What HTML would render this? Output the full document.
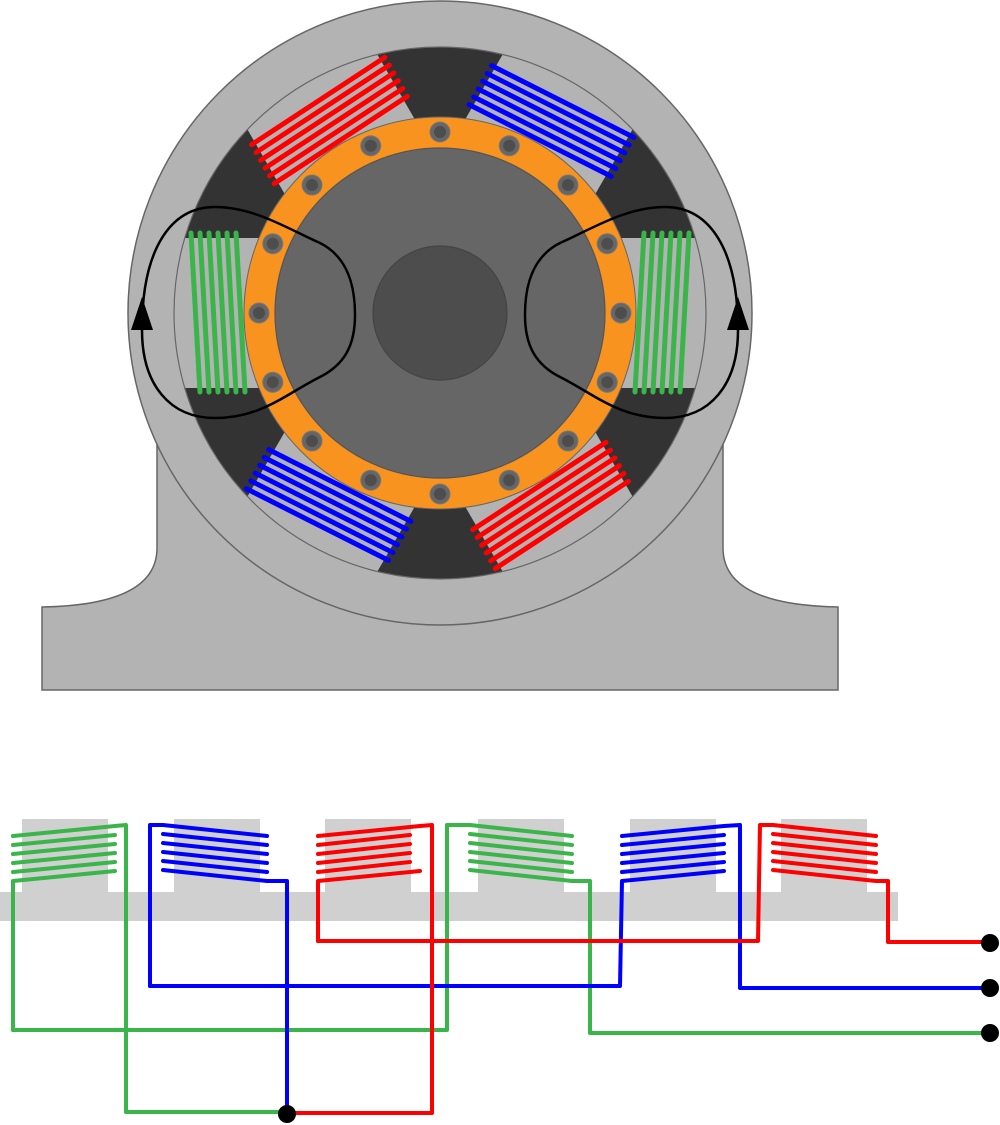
<!DOCTYPE html>
<html><head><meta charset="utf-8"><style>html,body{margin:0;padding:0;background:#fff}svg{display:block}</style></head>
<body>
<svg width="1000" height="1125" viewBox="0 0 1000 1125" xmlns="http://www.w3.org/2000/svg">
<defs>
<clipPath id="ic"><circle cx="440" cy="313" r="266"/></clipPath>
<g id="pole"><rect x="120" y="238" width="180" height="150" fill="#b3b3b3"/></g>
<g id="coilL" stroke-width="5" stroke-linecap="round" fill="none">
<line x1="191" y1="233" x2="200" y2="392"/><line x1="200" y1="233" x2="209" y2="392"/>
<line x1="209" y1="233" x2="218" y2="392"/><line x1="218" y1="233" x2="227" y2="392"/>
<line x1="227" y1="233" x2="236" y2="392"/><line x1="236" y1="233" x2="245" y2="392"/>
</g>
</defs>
<!-- base -->
<path d="M157,430 L157,548 Q157,605 42,607 L42,690 L838,690 L838,607 Q723,605 723,548 L723,430 Z" fill="#b3b3b3" stroke="#666" stroke-width="1.5"/>
<circle cx="440" cy="313" r="312" fill="#b3b3b3" stroke="#666" stroke-width="1.5"/>
<circle cx="440" cy="313" r="266" fill="#333"/>
<g clip-path="url(#ic)">
<use href="#pole"/>
<use href="#pole" transform="rotate(60 440 313)"/>
<use href="#pole" transform="rotate(120 440 313)"/>
<use href="#pole" transform="rotate(180 440 313)"/>
<use href="#pole" transform="rotate(240 440 313)"/>
<use href="#pole" transform="rotate(300 440 313)"/>
</g>
<circle cx="440" cy="313" r="266" fill="none" stroke="#666" stroke-width="1.2"/>
<!-- coils -->
<use href="#coilL" stroke="#39b54a"/>
<use href="#coilL" stroke="#39b54a" transform="matrix(-1 0 0 1 880 0)"/>
<use href="#coilL" stroke="#ff0000" transform="rotate(60 440 313)"/>
<use href="#coilL" stroke="#0000ff" transform="rotate(120 440 313)"/>
<use href="#coilL" stroke="#ff0000" transform="rotate(240 440 313)"/>
<use href="#coilL" stroke="#0000ff" transform="rotate(300 440 313)"/>
<!-- rotor -->
<circle cx="440" cy="313" r="196" fill="#f7931e" stroke="#666" stroke-width="1"/>
<circle cx="440" cy="313" r="165" fill="#666" stroke="#555" stroke-width="1.2"/>
<circle cx="440" cy="313" r="67" fill="#4d4d4d" stroke="#444" stroke-width="1.2"/>
<g id="bolts">
<g id="b"><circle cx="440" cy="132" r="10" fill="#666" stroke="#777" stroke-width="1"/><circle cx="440" cy="132" r="6" fill="#4d4d4d"/></g>
<use href="#b" transform="rotate(22.5 440 313)"/><use href="#b" transform="rotate(45 440 313)"/>
<use href="#b" transform="rotate(67.5 440 313)"/><use href="#b" transform="rotate(90 440 313)"/>
<use href="#b" transform="rotate(112.5 440 313)"/><use href="#b" transform="rotate(135 440 313)"/>
<use href="#b" transform="rotate(157.5 440 313)"/><use href="#b" transform="rotate(180 440 313)"/>
<use href="#b" transform="rotate(202.5 440 313)"/><use href="#b" transform="rotate(225 440 313)"/>
<use href="#b" transform="rotate(247.5 440 313)"/><use href="#b" transform="rotate(270 440 313)"/>
<use href="#b" transform="rotate(292.5 440 313)"/><use href="#b" transform="rotate(315 440 313)"/>
<use href="#b" transform="rotate(337.5 440 313)"/>
</g>
<!-- flux loops -->
<g id="loop">
<path d="M142,330 C142,250 170,207 215,207 C255,207 290,230 320,243 C350,258 355,290 355,315 C355,345 345,365 318,378 C285,395 260,418 215,418 C170,418 142,385 142,330" fill="none" stroke="#000" stroke-width="2.5"/>
<polygon points="142,297 131,330 153,330" fill="#000"/>
</g>
<use href="#loop" transform="matrix(-1 0 0 1 880 0)"/>

<!-- bottom diagram -->
<g fill="#d0d0d0">
<rect x="0" y="892" width="898" height="29"/>
<rect x="22" y="819" width="86" height="74"/><rect x="174" y="819" width="86" height="74"/>
<rect x="325" y="819" width="86" height="74"/><rect x="478" y="819" width="86" height="74"/>
<rect x="630" y="819" width="86" height="74"/><rect x="781" y="819" width="86" height="74"/>
</g>
<g fill="none" stroke-width="4" stroke-linecap="round" stroke-linejoin="round">
<!-- green1 (up) -->
<g stroke="#39b54a">
<path d="M13,1030 L13,881 L115,871"/><line x1="13" y1="872" x2="115" y2="862"/><line x1="13" y1="863" x2="115" y2="853"/><line x1="13" y1="854" x2="115" y2="844"/><line x1="13" y1="845" x2="115" y2="835"/><path d="M13,836 L115,826 L126,825 L126,1112 L287,1112"/>
<path d="M13,1030 L447,1030 L447,825 L470,825 L572,836"/><line x1="470" y1="834" x2="572" y2="845"/><line x1="470" y1="843" x2="572" y2="854"/><line x1="470" y1="852" x2="572" y2="863"/><line x1="470" y1="861" x2="572" y2="872"/><path d="M470,870 L572,881 L590,881 L590,1033 L990,1033"/>
</g>
<g stroke="#0000ff">
<path d="M150,986 L150,825 L163,825 L267,836"/><line x1="163" y1="834" x2="267" y2="845"/><line x1="163" y1="843" x2="267" y2="854"/><line x1="163" y1="852" x2="267" y2="863"/><line x1="163" y1="861" x2="267" y2="872"/><path d="M163,870 L267,881 L287,881 L287,1113"/>
<path d="M150,986 L620,986 L622,881 L724,871"/><line x1="622" y1="872" x2="724" y2="862"/><line x1="622" y1="863" x2="724" y2="853"/><line x1="622" y1="854" x2="724" y2="844"/><line x1="622" y1="845" x2="724" y2="835"/><path d="M622,836 L724,826 L740,825 L740,988 L990,988"/>
</g>
<g stroke="#ff0000">
<path d="M318,941 L318,881 L420,871"/><line x1="318" y1="872" x2="410" y2="862"/><line x1="318" y1="863" x2="410" y2="853"/><line x1="318" y1="854" x2="410" y2="844"/><line x1="318" y1="845" x2="410" y2="835"/><path d="M318,836 L420,826 L432,825 L432,1113 L287,1113"/>
<path d="M318,941 L758,941 L760,825 L773,825 L876,836"/><line x1="773" y1="834" x2="876" y2="845"/><line x1="773" y1="843" x2="876" y2="854"/><line x1="773" y1="852" x2="876" y2="863"/><line x1="773" y1="861" x2="876" y2="872"/><path d="M773,870 L876,881 L888,881 L888,942 L990,942"/>
</g>
</g>
<g fill="#000">
<circle cx="990" cy="943" r="9"/><circle cx="990" cy="988" r="9"/><circle cx="990" cy="1033" r="9"/><circle cx="287" cy="1114" r="9"/>
</g>
</svg>
</body></html>
